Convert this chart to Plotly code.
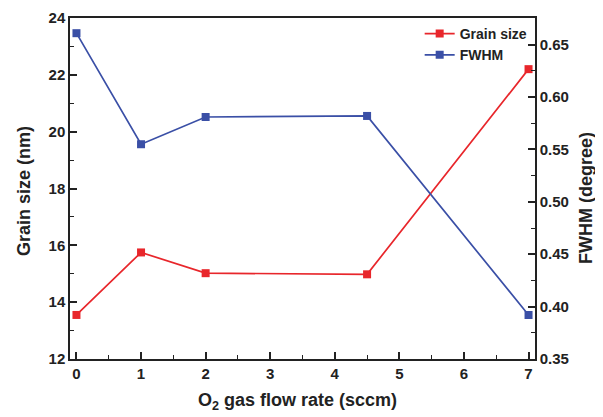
import plotly.graph_objects as go

flow = [0, 1, 2, 4.5, 7]
grain_size = [13.55, 15.75, 15.02, 14.98, 22.2]
fwhm = [0.661, 0.555, 0.581, 0.582, 0.392]

x_title = "O<sub>2</sub> gas flow rate (sccm)"
y_title = "Grain size (nm)"
y2_title = "FWHM (degree)"

red = "#e8262b"
blue = "#3a4fa6"
font_fam = "Liberation Sans, Arial, sans-serif"

fig = go.Figure()
fig.add_trace(go.Scatter(x=flow, y=grain_size, name="Grain size", mode="lines+markers",
                         line=dict(color=red, width=1.7),
                         marker=dict(symbol="square", size=8, color=red), yaxis="y"))
fig.add_trace(go.Scatter(x=flow, y=fwhm, name="FWHM", mode="lines+markers",
                         line=dict(color=blue, width=1.7),
                         marker=dict(symbol="square", size=8, color=blue), yaxis="y2"))

tickf = dict(family=font_fam, size=15, color="#222", weight="bold")
titlef = dict(family=font_fam, size=18, color="#222", weight="bold")

# page body has an 8px default margin; figure offset accordingly
fig.update_layout(
    width=595, height=409,
    margin=dict(l=62, r=68, t=10, b=58, autoexpand=False),
    paper_bgcolor="white", plot_bgcolor="white",
    showlegend=True,
    legend=dict(x=0.995, y=1.0, xanchor="right", yanchor="top",
                bgcolor="rgba(0,0,0,0)", font=dict(family=font_fam, size=14, color="#222", weight="bold"),
                tracegroupgap=0, itemwidth=30),
    xaxis=dict(range=[-0.1, 7.1], tickvals=[0, 1, 2, 3, 4, 5, 6, 7], automargin=False,
               showline=True, linecolor="#222", linewidth=1.5, mirror=True,
               ticks="inside", ticklen=7, tickwidth=1.5, tickcolor="#222",
               minor=dict(dtick=0.5, ticks="inside", ticklen=4, tickcolor="#222", tickwidth=1.2),
               showgrid=False, zeroline=False, tickfont=tickf),
    yaxis=dict(range=[12, 24], dtick=2, automargin=False,
               showline=True, linecolor="#222", linewidth=1.5,
               ticks="inside", ticklen=7, tickwidth=1.5, tickcolor="#222",
               minor=dict(dtick=1, ticks="inside", ticklen=4, tickcolor="#222", tickwidth=1.2),
               showgrid=False, zeroline=False, tickfont=tickf),
    yaxis2=dict(range=[0.35, 0.6755], dtick=0.05, tickformat=".2f", overlaying="y", side="right",
                automargin=False,
                showline=True, linecolor="#222", linewidth=1.5,
                ticks="inside", ticklen=7, tickwidth=1.5, tickcolor="#222",
                minor=dict(dtick=0.025, ticks="inside", ticklen=4, tickcolor="#222", tickwidth=1.2),
                showgrid=False, zeroline=False, tickfont=tickf),
    annotations=[
        dict(text=x_title, xref="paper", yref="paper", x=0.49, y=-0.125,
             xanchor="center", yanchor="middle", showarrow=False, font=titlef),
        dict(text=y_title, xref="paper", yref="paper", x=-0.100, y=0.491, textangle=-90,
             xanchor="center", yanchor="middle", showarrow=False, font=titlef),
        dict(text=y2_title, xref="paper", yref="paper", x=1.111, y=0.471, textangle=-90,
             xanchor="center", yanchor="middle", showarrow=False, font=titlef),
    ],
)

fig.write_html("out.html")
